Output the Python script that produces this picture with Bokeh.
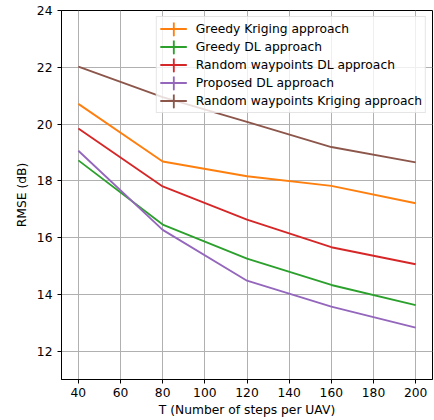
from bokeh.plotting import figure
from bokeh.models import Range1d, FixedTicker, Legend, LegendItem
from bokeh.embed import file_html
from bokeh.resources import INLINE

steps = [40, 80, 120, 160, 200]
greedy_kriging = [20.71, 18.68, 18.16, 17.82, 17.21]
greedy_dl = [18.72, 16.46, 15.26, 14.33, 13.62]
random_dl = [19.84, 17.80, 16.63, 15.66, 15.06]
proposed_dl = [19.06, 16.27, 14.48, 13.57, 12.83]
random_kriging = [22.02, 20.95, 20.08, 19.19, 18.65]

series_names = [
    "Greedy Kriging approach",
    "Greedy DL approach",
    "Random waypoints DL approach",
    "Proposed DL approach",
    "Random waypoints Kriging approach",
]
series_values = [greedy_kriging, greedy_dl, random_dl, proposed_dl, random_kriging]
colors = ["#ff7f0e", "#2ca02c", "#d62728", "#9467bd", "#8c564b"]

x_ticks = [40, 60, 80, 100, 120, 140, 160, 180, 200]
y_ticks = [12, 14, 16, 18, 20, 22, 24]

FONT = "DejaVu Sans"
FS = "12.3px"

p = figure(width=434, height=420, output_backend="svg", toolbar_location=None,
           x_range=Range1d(32, 208), y_range=Range1d(11, 24),
           min_border_left=61, min_border_right=2, min_border_top=10, min_border_bottom=41)

p.background_fill_color = "white"
p.border_fill_color = "white"
p.outline_line_color = "black"
p.outline_line_width = 1.0
p.outline_line_alpha = 1

for ax in (p.xaxis[0], p.yaxis[0]):
    ax.axis_line_color = "black"
    ax.axis_line_width = 1.0
    ax.major_tick_line_color = "black"
    ax.major_tick_line_width = 1.0
    ax.major_tick_out = 4
    ax.major_tick_in = 0
    ax.minor_tick_line_color = None
    ax.major_label_text_font = FONT
    ax.major_label_text_font_size = FS
    ax.major_label_text_color = "black"
    ax.axis_label_text_font = FONT
    ax.axis_label_text_font_size = FS
    ax.axis_label_text_font_style = "normal"
    ax.axis_label_text_color = "black"

p.xaxis[0].ticker = FixedTicker(ticks=x_ticks)
p.yaxis[0].ticker = FixedTicker(ticks=y_ticks)
p.xaxis[0].axis_label = "T (Number of steps per UAV)"
p.yaxis[0].axis_label = "RMSE (dB)"
p.xaxis[0].major_label_standoff = 4
p.yaxis[0].major_label_standoff = 5
p.xaxis[0].axis_label_standoff = 3
p.yaxis[0].axis_label_standoff = 5

for g in (p.xgrid[0], p.ygrid[0]):
    g.grid_line_color = "#b0b0b0"
    g.grid_line_width = 1.0

items = []
for name, vals, c in zip(series_names, series_values, colors):
    r = p.line(steps, vals, line_color=c, line_width=1.85)
    # off-screen degenerate ellipse: only used to draw the vertical bar of the
    # error-bar style legend glyph
    e = p.ellipse(x=[1000], y=[1000], width=0.001, height=14,
                  width_units="screen", height_units="screen",
                  fill_color=None, line_color=c, line_width=1.85)
    items.append(LegendItem(label=name, renderers=[r, e]))

legend = Legend(items=items, location="top_right")
legend.margin = 6
legend.padding = 3
legend.spacing = 1
legend.glyph_width = 27
legend.glyph_height = 17
legend.label_height = 17
legend.label_standoff = 9
legend.label_text_font = FONT
legend.label_text_font_size = FS
legend.label_text_color = "black"
legend.border_line_color = "#cccccc"
legend.border_line_width = 1
legend.background_fill_color = "white"
legend.background_fill_alpha = 0.8
p.add_layout(legend)

open("out.html", "w").write(file_html(p, INLINE))
